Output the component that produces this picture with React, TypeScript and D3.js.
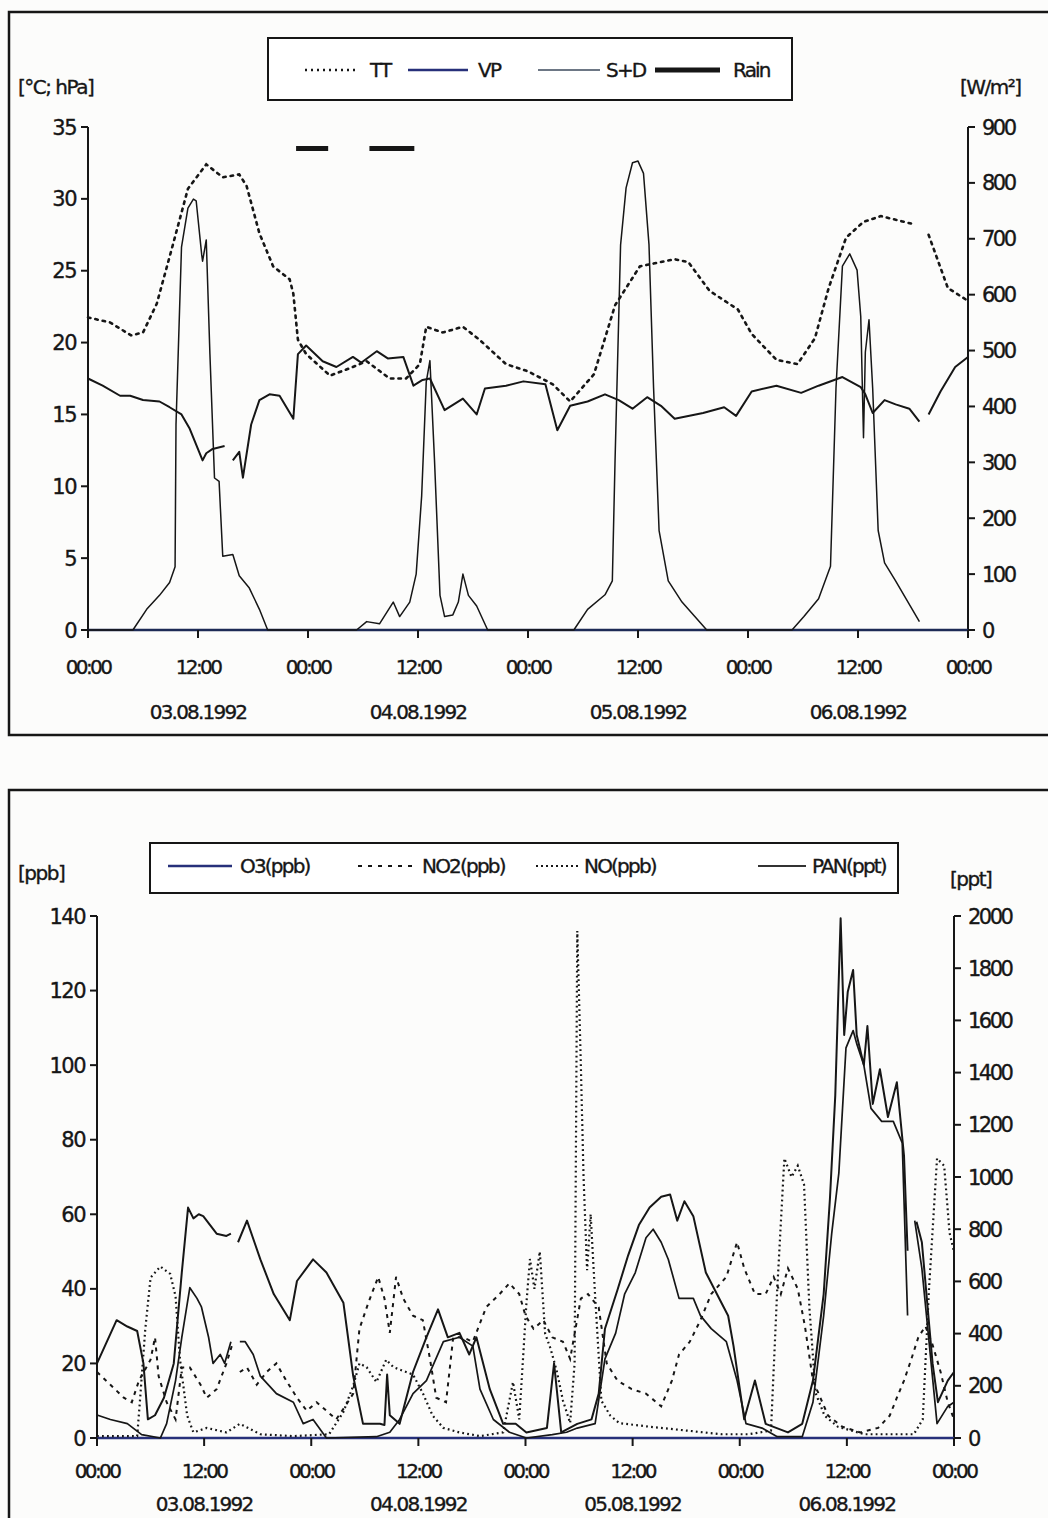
import * as d3 from 'd3';

type Pt = [number, number | null];

// shared time axis (hours since 03.08.1992 00:00)
const timeTicks = [0, 12, 24, 36, 48, 60, 72, 84, 96];
const timeTickLabels = ['00:00', '12:00', '00:00', '12:00', '00:00', '12:00', '00:00', '12:00', '00:00'];
const dateTicks = [12, 36, 60, 84];
const dateLabels = ['03.08.1992', '04.08.1992', '05.08.1992', '06.08.1992'];

// top panel
const tempTicks = [0, 5, 10, 15, 20, 25, 30, 35];
const radTicks = [0, 100, 200, 300, 400, 500, 600, 700, 800, 900];

const ttSeries: Pt[] = [
  [0, 21.75], [2.4, 21.4], [4.7, 20.5], [6, 20.7], [7.5, 22.7], [9.3, 26.9], [10.9, 30.7], [12.9, 32.4],
  [14.7, 31.5], [16.5, 31.7], [17.3, 30.9], [18.7, 27.6], [20.2, 25.3], [22, 24.4], [22.4, 23.4], [22.9, 20.2],
  [23.8, 19.2], [26.4, 17.7], [28.5, 18.2], [30.4, 18.7], [32.9, 17.5], [34.7, 17.5], [36.2, 18.5], [36.9, 21.1],
  [38.7, 20.7], [40.9, 21.1], [42.7, 20.2], [45.6, 18.5], [48, 18.0], [50.7, 17.1], [52.6, 15.9], [55.2, 17.8],
  [57.5, 22.6], [60.2, 25.3], [64, 25.8], [65.5, 25.6], [67.8, 23.6], [70.9, 22.3], [72.4, 20.6], [75.1, 18.8],
  [77.4, 18.5], [79.3, 20.3], [80.8, 23.8], [82.7, 27.3], [84.6, 28.4], [86.5, 28.8], [90.3, 28.2], [90.8, null],
  [91.7, 27.5], [93.8, 23.8], [96, 22.9],
];

const vpSeries: Pt[] = [
  [0, 17.5], [1.6, 17.0], [3.5, 16.3], [4.6, 16.3], [6, 16.0], [7.8, 15.9], [8.9, 15.5], [10.2, 15.0],
  [11.1, 14.0], [12.5, 11.8], [12.9, 12.3], [13.6, 12.6], [14.9, 12.8], [15.3, null], [15.8, 11.8], [16.5, 12.4],
  [16.9, 10.6], [17.8, 14.3], [18.7, 16.0], [19.8, 16.4], [20.9, 16.3], [22.4, 14.7], [22.9, 19.2], [23.8, 19.8],
  [25.6, 18.7], [27.1, 18.3], [28.9, 19.0], [29.8, 18.6], [31.5, 19.4], [32.7, 18.9], [34.4, 19.0], [35.5, 17.0],
  [36.5, 17.4], [37.3, 17.5], [38.9, 15.3], [40.9, 16.1], [42.4, 15.0], [43.3, 16.8], [45.6, 17.0], [47.5, 17.3],
  [49.9, 17.1], [51.2, 13.9], [52.6, 15.6], [54.5, 15.9], [56.4, 16.4], [57.9, 16.0], [59.4, 15.4], [61, 16.2],
  [62.5, 15.6], [64, 14.7], [67.1, 15.1], [69.4, 15.5], [70.7, 14.9], [72.4, 16.6], [75.1, 17.0], [77.8, 16.5],
  [79.7, 17.0], [82.3, 17.6], [84.3, 16.9], [84.8, 16.4], [85.6, 15.1], [86.9, 16.0], [88.1, 15.7], [89.6, 15.4],
  [90.7, 14.5], [91.2, null], [91.7, 15.0], [93, 16.6], [94.6, 18.3], [96, 19.0],
];

const sdSeries: Pt[] = [
  [0, 0], [4.9, 0], [6.4, 37], [7.8, 62], [8.9, 85], [9.5, 113], [9.6, 367], [10.2, 685], [10.9, 755],
  [11.5, 771], [11.8, 768], [12.4, 672], [12.5, 660], [12.9, 698], [13.3, 494], [13.8, 272], [14.3, 266],
  [14.7, 132], [15.8, 135], [16.5, 97], [17.6, 75], [18.7, 37], [19.6, 0], [29.3, 0], [30.4, 15], [31.8, 11],
  [33.3, 50], [34, 24], [35.1, 50], [35.8, 100], [36.4, 240], [36.9, 444], [37.3, 482], [37.8, 304], [38.4, 62],
  [38.9, 24], [39.8, 27], [40.4, 50], [40.9, 100], [41.5, 62], [42.4, 43], [43.6, 0], [53, 0], [54.5, 37],
  [56.4, 63], [57.2, 88], [57.5, 306], [58.1, 689], [58.7, 791], [59.4, 836], [60, 839], [60.6, 817], [61.2, 689],
  [61.7, 433], [62.3, 178], [63.3, 88], [64.8, 50], [67.5, 0], [76.8, 0], [78.1, 24], [79.7, 56], [81, 114],
  [81.6, 433], [82.3, 651], [83.1, 673], [83.9, 644], [84.3, 561], [84.6, 344], [84.8, 497], [85.2, 555],
  [85.6, 433], [86.2, 178], [86.9, 120], [88.1, 88], [90.7, 15],
];

const rainPeriods: [number, number][] = [[22.7, 26.2], [30.7, 35.6]];
const rainLevel = 33.5;

// bottom panel
const ppbTicks = [0, 20, 40, 60, 80, 100, 120, 140];
const pptTicks = [0, 200, 400, 600, 800, 1000, 1200, 1400, 1600, 1800, 2000];

const o3Series: Pt[] = [
  [0, 20], [2.2, 31.6], [3.4, 29.9], [4.5, 28.7], [5.2, 20], [5.7, 5], [6.5, 6.1], [7.5, 10.8], [8.6, 20],
  [9.5, 44.4], [10.2, 61.8], [10.8, 58.9], [11.4, 60], [11.9, 59.5], [13.4, 54.8], [14.5, 54.2], [15.0, 54.8],
  [15.4, null], [15.8, 52.5], [16.8, 58.3], [18.3, 47.9], [19.8, 38.6], [21.6, 31.6], [22.4, 42.1], [24.2, 47.9],
  [25.7, 44.4], [26.8, 39.7], [27.6, 36.3], [28.7, 16.6], [29.8, 3.8], [31.7, 3.8], [32.2, 3.5], [32.5, 17],
  [32.8, 6.1], [33.9, 3.8], [35.4, 17.7], [36.9, 27], [38.2, 34.5], [39.3, 27], [40.6, 28.2], [41.7, 22.4],
  [42.5, 27], [44.0, 13.1], [45.5, 3.8], [46.9, 3.8], [48.1, 1.5], [50.4, 2.7], [51.2, 20], [52.0, 1.5],
  [53.8, 3.8], [55.4, 5], [56.2, 11.9], [56.9, 29.3], [58.3, 39.7], [59.5, 49], [60.7, 57.1], [61.9, 61.8],
  [63.2, 64.7], [64.2, 65.3], [65.0, 58.3], [65.8, 63.5], [66.8, 59.5], [68.2, 44.4], [69.7, 37.4], [70.7, 32.8],
  [71.3, 24.7], [72.5, 5], [73.7, 15.4], [74.9, 3.8], [77.4, 1.5], [79.0, 3.8], [80.2, 15.4], [81.4, 38.6],
  [82.1, 64.1], [82.7, 91.9], [83.3, 139.4], [83.7, 108.1], [84.1, 119.7], [84.7, 125.5], [85.1, 108.1],
  [85.9, 100], [86.3, 110.5], [86.9, 89.6], [87.7, 98.9], [88.6, 86.1], [89.6, 95.4], [90.4, 75.7], [90.8, 50.2],
  [91.2, null], [91.8, 58], [92.4, 52.5], [93.6, 20], [94.2, 9.6], [95.3, 15.4], [96, 17.7],
];

const no2Series: Pt[] = [
  [0, 17.7], [1.5, 14.3], [3, 10.8], [3.9, 9.6], [4.7, 15.4], [6.0, 21], [6.5, 27], [6.9, 16.6], [7.8, 9.6],
  [8.8, 5], [9.5, 18.9], [10.4, 18.9], [11.6, 14.3], [12.3, 10.8], [13.4, 13.1], [14.5, 20], [15.1, 24.7],
  [15.4, null], [16, 17.7], [16.8, 18.9], [17.9, 14.3], [19, 17.7], [20.1, 20], [21.2, 15.4], [22.4, 10.8],
  [23.5, 7.3], [24.6, 9.6], [25.7, 7.3], [26.8, 5], [27.8, 8.5], [28.7, 11.9], [29.4, 29.3], [30.4, 36.3],
  [31.5, 43.2], [32.2, 37.4], [32.8, 28.2], [33.5, 43.2], [34.3, 37.4], [35.4, 32.8], [36.5, 31.6], [37.3, 21.2],
  [38, 10.8], [39.1, 9.6], [39.9, 27], [41, 27], [42.1, 25.8], [43.6, 35.1], [45.1, 38.6], [46.2, 41.5],
  [47.3, 38.6], [48, 32.8], [48.9, 29.3], [50, 31.6], [51, 27], [52.2, 25.8], [53, 21.2], [54.2, 37.4], [55, 38.6],
  [56.2, 35], [57.1, 20], [58.3, 15.4], [59.9, 13.1], [61.5, 11.9], [63.2, 8.5], [64.4, 15.4], [65.2, 22.4],
  [66.4, 25.8], [67.6, 31.6], [68.8, 38.6], [70.5, 43.2], [71.7, 52.5], [72.5, 45.5], [73.7, 38.6], [74.9, 38.6],
  [75.8, 43.2], [76.6, 38.6], [77.4, 45.5], [78.5, 40], [79.3, 30], [80.2, 15.4], [81.9, 6], [83.5, 3], [85.5, 1.5],
  [87.5, 2.7], [88.8, 6], [89.6, 10.8], [90.4, 15.4], [91.2, 21], [92, 27], [92.8, 30], [93.6, 25], [94.5, 17.7],
  [95.3, 9.6], [96, 5],
];

const noSeries: Pt[] = [
  [0, 0.5], [4.5, 0.5], [4.8, 9.6], [5.4, 29], [6, 43], [7.1, 46], [8.2, 44], [8.8, 38], [9.3, 21], [10.1, 6],
  [10.8, 1.5], [12.3, 2.7], [14.5, 1.5], [16, 3.8], [18.3, 1], [22, 0.5], [26, 1], [27.6, 7], [28.7, 14],
  [29.4, 20], [30.2, 19], [31.3, 15], [32.4, 21], [33.2, 19], [34.3, 18], [35.4, 17], [36.5, 12], [37.6, 6],
  [38.8, 2.7], [40.6, 1.5], [42.9, 0.5], [45.5, 1.5], [46.6, 15], [47.3, 5], [48.1, 36], [48.5, 48], [49, 40],
  [49.6, 50], [50.2, 28], [50.8, 24], [51.5, 18], [52.2, 10], [53, 4], [53.5, 20], [53.8, 136], [54.2, 100],
  [54.5, 70], [54.9, 45], [55.3, 60], [55.8, 38], [56.5, 10], [57.5, 6], [58.5, 4], [62, 3], [66, 2], [70, 1],
  [73, 1], [75.5, 2], [76.2, 40], [77, 75], [77.8, 70], [78.5, 73], [79.2, 68], [79.8, 35], [80.5, 12], [81.5, 6],
  [83, 3], [86, 1], [89, 1], [91.5, 1], [92.5, 5], [93.2, 40], [94.1, 75], [94.9, 73], [95.5, 55], [96, 50],
];

const panSeries: Pt[] = [
  [0, 88], [1.5, 71], [3.4, 55], [5, 13], [7.1, 0], [7.8, 55], [8.8, 220], [9.5, 386], [10.4, 576], [11.2, 535],
  [11.7, 502], [12.5, 386], [13, 286], [13.8, 320], [14.3, 286], [15, 369], [15.4, null], [16, 369], [16.6, 369],
  [17.5, 320], [18.3, 237], [20.1, 170], [22, 137], [23.1, 55], [24.2, 71], [25.7, 0], [31.3, 5], [32.8, 22],
  [33.9, 71], [35.4, 170], [36.9, 220], [38.8, 369], [40.6, 386], [42.1, 352], [42.9, 187], [44.4, 71], [46.2, 22],
  [48.1, 0], [51, 13], [52.6, 22], [53.8, 38], [55.8, 55], [56.9, 303], [58.1, 402], [59.1, 551], [60.3, 634],
  [61.5, 767], [62.3, 800], [63.2, 750], [64, 684], [65.2, 535], [66.8, 535], [67.6, 469], [68.8, 419], [70.5, 369],
  [71.7, 220], [72.7, 55], [74.5, 38], [76.2, 5], [79, 5], [80.2, 137], [81.4, 469], [82.3, 783], [83.1, 1015],
  [83.9, 1495], [84.7, 1561], [85.1, 1511], [85.9, 1429], [86.7, 1263], [87.9, 1213], [89.2, 1213], [90.2, 1131],
  [90.8, 469], [91.2, null], [91.6, 833], [92.4, 650], [94.1, 55], [95.3, 121], [96, 137],
];

const FONT = '"DejaVu Sans", "Liberation Sans", sans-serif';
const INK = '#161616';
const NAVY = '#27307a';

type AxisProps = {
  x: d3.ScaleLinear<number, number>;
  yL: d3.ScaleLinear<number, number>;
  yR: d3.ScaleLinear<number, number>;
  leftTicks: number[];
  rightTicks: number[];
  labelDy: number;
  dateDy: number;
  baseColor: string;
};

// text is stroked slightly to get the heavy look of the scanned print
const textInk = { fill: INK, stroke: INK, strokeWidth: 0.35 };

function Axes({ x, yL, yR, leftTicks, rightTicks, labelDy, dateDy, baseColor }: AxisProps) {
  const x0 = x(0);
  const x1 = x(96);
  const y0 = yL(0);
  const yTop = yL(leftTicks[leftTicks.length - 1]);
  return (
    <g fontFamily={FONT}>
      <line x1={x0} x2={x0} y1={yTop} y2={y0} stroke={INK} strokeWidth={2} />
      <line x1={x1} x2={x1} y1={yR(rightTicks[rightTicks.length - 1])} y2={y0} stroke={INK} strokeWidth={2} />
      {leftTicks.map((t) => (
        <g key={'l' + t}>
          <line x1={x0 - 7} x2={x0} y1={yL(t)} y2={yL(t)} stroke={INK} strokeWidth={2} />
          <text x={x0 - 12} y={yL(t)} dy="0.36em" textAnchor="end" fontSize={21} letterSpacing={-1.5} {...textInk}>{t}</text>
        </g>
      ))}
      {rightTicks.map((t) => (
        <g key={'r' + t}>
          <line x1={x1} x2={x1 + 7} y1={yR(t)} y2={yR(t)} stroke={INK} strokeWidth={2} />
          <text x={x1 + 14} y={yR(t)} dy="0.36em" textAnchor="start" fontSize={21} letterSpacing={-2.5} {...textInk}>{t}</text>
        </g>
      ))}
      <line x1={x0} x2={x1} y1={y0} y2={y0} stroke={baseColor} strokeWidth={2.4} />
      {timeTicks.map((t, i) => (
        <g key={'x' + i}>
          <line x1={x(t)} x2={x(t)} y1={y0} y2={y0 + 8} stroke={INK} strokeWidth={2} />
          <text x={x(t)} y={y0 + labelDy} dy="0.36em" textAnchor="middle" fontSize={20} letterSpacing={-2.6} {...textInk}>{timeTickLabels[i]}</text>
        </g>
      ))}
      {dateTicks.map((t, i) => (
        <text key={'d' + i} x={x(t)} y={y0 + dateDy} dy="0.36em" textAnchor="middle" fontSize={20} letterSpacing={-1.8} {...textInk}>{dateLabels[i]}</text>
      ))}
    </g>
  );
}

function pathOf(data: Pt[], x: d3.ScaleLinear<number, number>, y: d3.ScaleLinear<number, number>) {
  return d3.line<Pt>()
    .defined((d) => d[1] != null)
    .x((d) => x(d[0]))
    .y((d) => y(d[1] as number))(data) || '';
}

function LegendText({ x, y, children }: { x: number; y: number; children: string }) {
  return (
    <text x={x} y={y} dy="0.36em" fontFamily={FONT} fontSize={20} letterSpacing={-1.8} {...textInk}>{children}</text>
  );
}

export default function App() {
  // top panel scales
  const xT = d3.scaleLinear().domain([0, 96]).range([88, 968]);
  const yT = d3.scaleLinear().domain([0, 35]).range([630, 127]);
  const yTR = d3.scaleLinear().domain([0, 900]).range([630, 127]);

  // bottom panel scales
  const xB = d3.scaleLinear().domain([0, 96]).range([97, 954]);
  const yB = d3.scaleLinear().domain([0, 140]).range([1438, 916]);
  const yBR = d3.scaleLinear().domain([0, 2000]).range([1438, 916]);

  const W = 1048;
  const H = 1518;

  return (
    <div style={{ position: 'absolute', left: 0, top: 0 }}>
      <svg width={W} height={H} viewBox={`0 0 ${W} ${H}`} style={{ display: 'block', background: '#fcfcfb' }}>
        {/* frames */}
        <rect x={9} y={12} width={1060} height={723} fill="none" stroke={INK} strokeWidth={2.5} />
        <path d={`M9,${H + 10} L9,790 L${W + 10},790`} fill="none" stroke={INK} strokeWidth={2.5} />

        {/* ---------- top panel ---------- */}
        <g fontFamily={FONT}>
          <text x={18} y={94} fontSize={20} letterSpacing={-1.5} {...textInk}>[°C; hPa]</text>
          <text x={960} y={94} fontSize={20} letterSpacing={-1.5} {...textInk}>[W/m²]</text>
        </g>
        <g>
          <rect x={268} y={38} width={524} height={62} fill="#fff" stroke={INK} strokeWidth={2} />
          <line x1={305} x2={358} y1={70} y2={70} stroke={INK} strokeWidth={2.5} strokeDasharray="2,4" />
          <LegendText x={370} y={70}>TT</LegendText>
          <line x1={408} x2={468} y1={70} y2={70} stroke={NAVY} strokeWidth={2.5} />
          <LegendText x={478} y={70}>VP</LegendText>
          <line x1={538} x2={600} y1={70} y2={70} stroke="#3c4a5c" strokeWidth={1.6} />
          <LegendText x={606} y={70}>S+D</LegendText>
          <line x1={655} x2={720} y1={70} y2={70} stroke={INK} strokeWidth={5} />
          <LegendText x={733} y={70}>Rain</LegendText>
        </g>

        <Axes x={xT} yL={yT} yR={yTR} leftTicks={tempTicks} rightTicks={radTicks} labelDy={37} dateDy={82} baseColor="#1d2a55" />

        <path d={pathOf(sdSeries, xT, yTR)} fill="none" stroke={INK} strokeWidth={1.5} strokeLinejoin="round" />
        <path d={pathOf(vpSeries, xT, yT)} fill="none" stroke={INK} strokeWidth={2} strokeLinejoin="round" />
        <path d={pathOf(ttSeries, xT, yT)} fill="none" stroke={INK} strokeWidth={2.6} strokeDasharray="2.5,5" strokeLinecap="round" />
        {rainPeriods.map((r, i) => (
          <line key={'rain' + i} x1={xT(r[0])} x2={xT(r[1])} y1={yT(rainLevel)} y2={yT(rainLevel)} stroke={INK} strokeWidth={5} />
        ))}

        {/* ---------- bottom panel ---------- */}
        <g fontFamily={FONT}>
          <text x={18} y={880} fontSize={20} letterSpacing={-1.5} {...textInk}>[ppb]</text>
          <text x={950} y={886} fontSize={20} letterSpacing={-1.5} {...textInk}>[ppt]</text>
        </g>
        <g>
          <rect x={150} y={843} width={748} height={50} fill="#fff" stroke={INK} strokeWidth={2} />
          <line x1={168} x2={232} y1={866} y2={866} stroke={NAVY} strokeWidth={2.5} />
          <LegendText x={240} y={866}>O3(ppb)</LegendText>
          <line x1={358} x2={412} y1={866} y2={866} stroke={INK} strokeWidth={2} strokeDasharray="4,6" />
          <LegendText x={422} y={866}>NO2(ppb)</LegendText>
          <line x1={536} x2={580} y1={866} y2={866} stroke={INK} strokeWidth={2} strokeDasharray="2,3" />
          <LegendText x={584} y={866}>NO(ppb)</LegendText>
          <line x1={758} x2={806} y1={866} y2={866} stroke="#333" strokeWidth={1.8} />
          <LegendText x={812} y={866}>PAN(ppt)</LegendText>
        </g>

        <Axes x={xB} yL={yB} yR={yBR} leftTicks={ppbTicks} rightTicks={pptTicks} labelDy={33} dateDy={66} baseColor={NAVY} />

        <path d={pathOf(noSeries, xB, yB)} fill="none" stroke={INK} strokeWidth={2.2} strokeDasharray="1.8,3.2" />
        <path d={pathOf(no2Series, xB, yB)} fill="none" stroke={INK} strokeWidth={2} strokeDasharray="4,5" />
        <path d={pathOf(panSeries, xB, yBR)} fill="none" stroke={INK} strokeWidth={1.7} strokeLinejoin="round" />
        <path d={pathOf(o3Series, xB, yB)} fill="none" stroke={INK} strokeWidth={2} strokeLinejoin="round" />
      </svg>
    </div>
  );
}
